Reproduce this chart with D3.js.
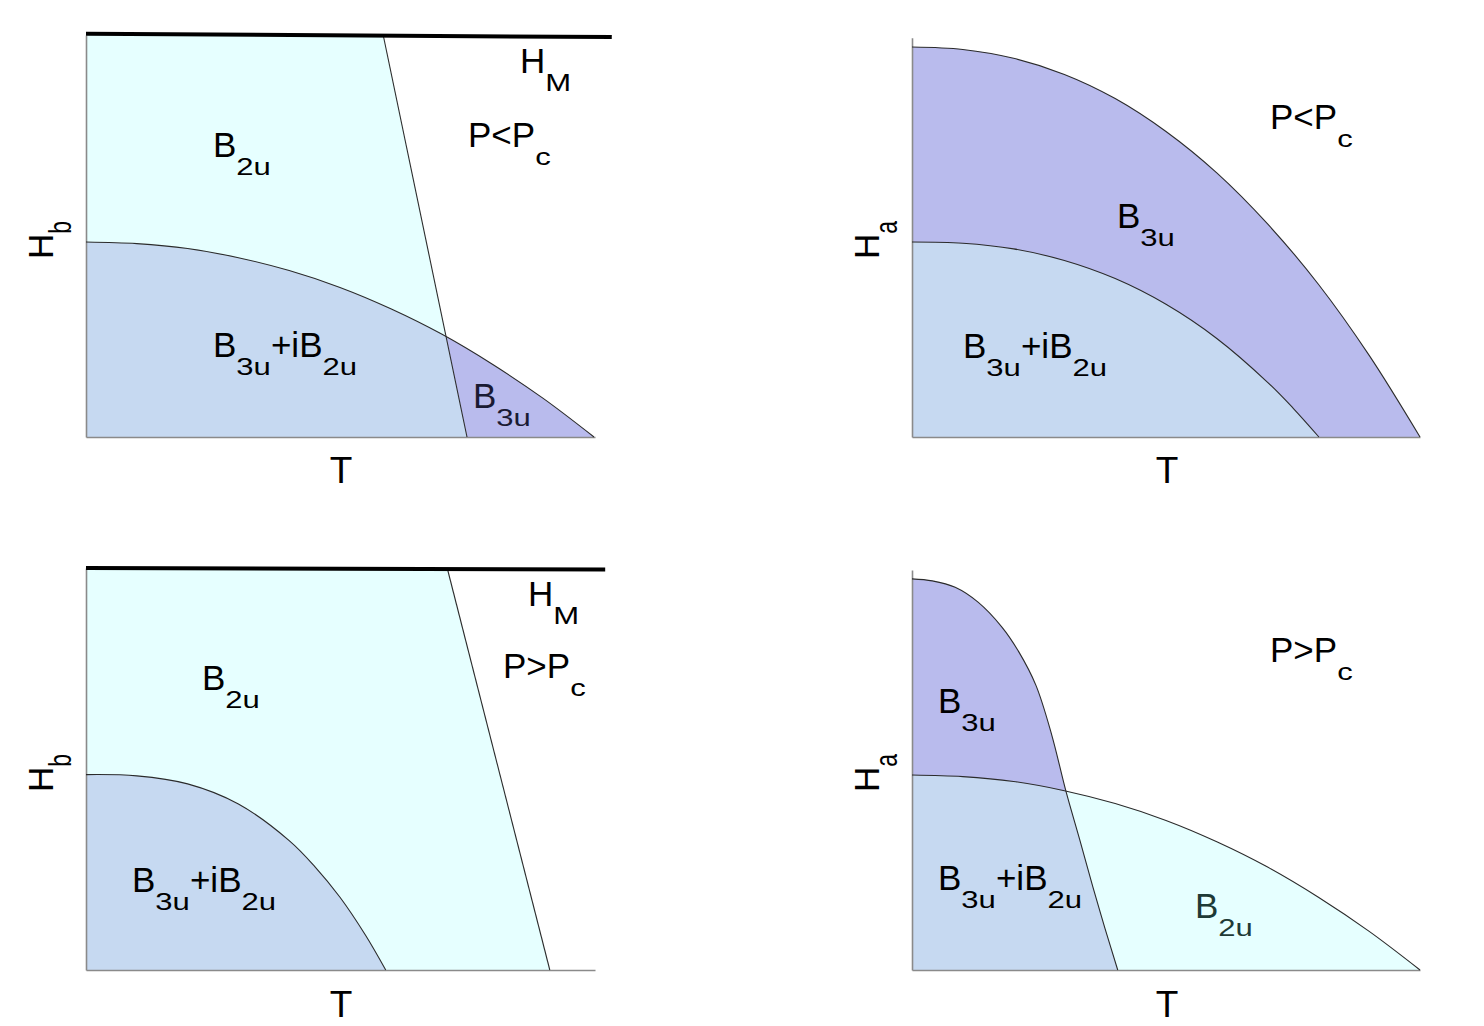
<!DOCTYPE html>
<html><head><meta charset="utf-8">
<script src="https://cdn.jsdelivr.net/npm/d3@7"></script>
<style>body{margin:0;background:#fff}</style>
</head><body><svg id="c" width="1484" height="1026"></svg>
<script>
// ---------- data (T, H) in normalised units ----------
const tlHM       = [[0, 1.003], [1.035, 0.995]];
const tlBoundary = [[0.585, 1.0], [0.75, 0]];
const tlCurve    = [[0,0.485],[0.1,0.481],[0.2,0.469],[0.3,0.446],[0.4,0.414],[0.5,0.372],[0.6,0.319],[0.7,0.256],[0.8,0.181],[0.9,0.096],[1,0]];
const trOuter    = [[0,0.970],[0.1,0.964],[0.2,0.942],[0.3,0.902],[0.4,0.842],[0.5,0.760],[0.6,0.657],[0.7,0.530],[0.8,0.380],[0.9,0.203],[1,0]];
const trInner    = [[0,0.485],[0.1,0.482],[0.2,0.468],[0.3,0.439],[0.4,0.394],[0.5,0.330],[0.6,0.245],[0.7,0.136],[0.75,0.072],[0.801,0]];
const blHM       = [[0, 1.0], [1.022, 0.996]];
const blBoundary = [[0.711, 1.0], [0.913, 0]];
const blCurve    = [[0,0.486],[0.1,0.483],[0.2,0.463],[0.3,0.413],[0.4,0.322],[0.45,0.258],[0.5,0.181],[0.55,0.087],[0.59,0]];
const brB3u      = [[0,0.973],[0.04,0.968],[0.085,0.952],[0.13,0.915],[0.177,0.853],[0.21,0.792],[0.244,0.708],[0.275,0.585],[0.303,0.445],[0.33,0.325],[0.356,0.207],[0.38,0.103],[0.405,0]];
const brCurve    = [[0,0.485],[0.1,0.481],[0.2,0.469],[0.3,0.446],[0.4,0.414],[0.5,0.372],[0.6,0.319],[0.7,0.256],[0.8,0.181],[0.9,0.096],[1,0]];
const axisTop    = [1.0, 0.993, 1.0, 0.995];
const axisRight  = [1.002, 1.0, 1.002, 1.0];

const C_CYAN = "#e6ffff", C_BLUE = "#c6d9f1", C_PURP = "#b9bbed";
const W = 508, Hh = 402;
const svg = d3.select("#c");
const FONT = "Liberation Sans, Arial, sans-serif";
const CURVE = d3.curveCatmullRom.alpha(0.5);

function scales(x0, y0){
  return { x: d3.scaleLinear().domain([0,1]).range([x0, x0+W]),
           y: d3.scaleLinear().domain([0,1]).range([y0, y0-Hh]) };
}
const lineGen = s => d3.line().x(d=>s.x(d[0])).y(d=>s.y(d[1])).curve(CURVE);
const polyGen = s => d3.line().x(d=>s.x(d[0])).y(d=>s.y(d[1]));
const areaGen = s => d3.area().x(d=>s.x(d[0])).y0(s.y(0)).y1(d=>s.y(d[1])).curve(CURVE);

function label(g, x, y, parts, opts={}){
  const size = opts.size||35, subSize = 23, SX = 1.35, DY = 18;
  const outer = g.append("g").attr("transform", opts.rotate ? `translate(${x},${y}) rotate(-90)` : `translate(${x},${y})`);
  const inner = outer.append("g");
  let cx = 0;
  parts.forEach(p=>{
    const isSub = !!p[1];
    const t = inner.append("text").attr("font-family",FONT)
      .attr("font-size", isSub ? subSize : size).attr("fill", opts.fill||"#000").text(p[0]);
    const w = t.node().getComputedTextLength();
    const sx = isSub && !opts.rotate ? SX : 1;
    const sy = isSub && opts.rotate ? SX : 1;
    t.attr("transform", `translate(${cx},${isSub?DY:0}) scale(${sx},${sy})`);
    cx += w*sx;
  });
  if (opts.anchor === "middle") inner.attr("transform", `translate(${-cx/2},0)`);
}
function axes(g, s, i){
  const ax = d3.axisLeft(s.y.copy().domain([0,axisTop[i]]).range([s.y(0), s.y(axisTop[i])])).ticks(0).tickSizeOuter(0);
  const bx = d3.axisBottom(s.x.copy().domain([0,axisRight[i]]).range([s.x(0), s.x(axisRight[i])])).ticks(0).tickSizeOuter(0);
  g.append("g").attr("transform",`translate(${s.x(0)},0)`).call(ax)
    .select(".domain").attr("stroke","#8a8a8a").attr("stroke-width",1.6);
  g.append("g").attr("transform",`translate(0,${s.y(0)})`).call(bx)
    .select(".domain").attr("stroke","#8a8a8a").attr("stroke-width",1.6);
}
const thin = sel => sel.attr("fill","none").attr("stroke","#2b2b2b").attr("stroke-width",1.1);
const defs = svg.append("defs");

// ---------- Panel 1 (top-left) ----------
{
  const s = scales(86, 437), g = svg.append("g");
  g.append("path").attr("d", polyGen(s)([[0,0],[0,1],tlBoundary[0],tlBoundary[1]])+"Z").attr("fill",C_CYAN);
  defs.append("clipPath").attr("id","p1L").append("path").attr("d", polyGen(s)([[0,0],[0,1],tlBoundary[0],tlBoundary[1]])+"Z");
  defs.append("clipPath").attr("id","p1R").append("path").attr("d", polyGen(s)([tlBoundary[1],tlBoundary[0],[1.2,1],[1.2,0]])+"Z");
  g.append("path").attr("d", areaGen(s)(tlCurve)).attr("fill",C_BLUE).attr("clip-path","url(#p1L)");
  g.append("path").attr("d", areaGen(s)(tlCurve)).attr("fill",C_PURP).attr("clip-path","url(#p1R)");
  axes(g, s, 0);
  g.append("path").attr("d", lineGen(s)(tlCurve)).call(thin);
  g.append("path").attr("d", polyGen(s)(tlBoundary)).call(thin);
  g.append("path").attr("d", polyGen(s)(tlHM)).attr("stroke","#000").attr("stroke-width",4).attr("fill","none");
  label(g, 53, 259, [["H"],["b",1]], {rotate:true});
  label(g, 341, 483, [["T"]], {anchor:"middle", size:37});
  label(g, 213, 157, [["B"],["2u",1]]);
  label(g, 520, 73, [["H"],["M",1]]);
  label(g, 468, 147, [["P<P"],["c",1]]);
  label(g, 213, 357, [["B"],["3u",1],["+iB"],["2u",1]]);
  label(g, 473, 408, [["B"],["3u",1]], {fill:"#1a1a33"});
}
// ---------- Panel 2 (top-right) ----------
{
  const s = scales(912, 437), g = svg.append("g");
  g.append("path").attr("d", areaGen(s)(trOuter)).attr("fill",C_PURP);
  g.append("path").attr("d", areaGen(s)(trInner)).attr("fill",C_BLUE);
  axes(g, s, 1);
  g.append("path").attr("d", lineGen(s)(trOuter)).call(thin);
  g.append("path").attr("d", lineGen(s)(trInner)).call(thin);
  label(g, 879, 259, [["H"],["a",1]], {rotate:true});
  label(g, 1167, 483, [["T"]], {anchor:"middle", size:37});
  label(g, 1270, 129, [["P<P"],["c",1]]);
  label(g, 1117, 228, [["B"],["3u",1]]);
  label(g, 963, 358, [["B"],["3u",1],["+iB"],["2u",1]]);
}
// ---------- Panel 3 (bottom-left) ----------
{
  const s = scales(86, 970), g = svg.append("g");
  g.append("path").attr("d", polyGen(s)([[0,0],[0,1],blBoundary[0],blBoundary[1]])+"Z").attr("fill",C_CYAN);
  g.append("path").attr("d", areaGen(s)(blCurve)).attr("fill",C_BLUE);
  axes(g, s, 2);
  g.append("path").attr("d", lineGen(s)(blCurve)).call(thin);
  g.append("path").attr("d", polyGen(s)(blBoundary)).call(thin);
  g.append("path").attr("d", polyGen(s)(blHM)).attr("stroke","#000").attr("stroke-width",4).attr("fill","none");
  label(g, 53, 792, [["H"],["b",1]], {rotate:true});
  label(g, 341, 1017, [["T"]], {anchor:"middle", size:37});
  label(g, 202, 690, [["B"],["2u",1]]);
  label(g, 528, 606, [["H"],["M",1]]);
  label(g, 503, 678, [["P>P"],["c",1]]);
  label(g, 132, 892, [["B"],["3u",1],["+iB"],["2u",1]]);
}
// ---------- Panel 4 (bottom-right) ----------
{
  const s = scales(912, 970), g = svg.append("g");
  defs.append("clipPath").attr("id","p4B").append("path").attr("d", areaGen(s)(brB3u));
  g.append("path").attr("d", areaGen(s)(brCurve)).attr("fill",C_CYAN);
  g.append("path").attr("d", areaGen(s)(brB3u)).attr("fill",C_PURP);
  g.append("path").attr("d", areaGen(s)(brCurve)).attr("fill",C_BLUE).attr("clip-path","url(#p4B)");
  axes(g, s, 3);
  g.append("path").attr("d", lineGen(s)(brB3u)).call(thin);
  g.append("path").attr("d", lineGen(s)(brCurve)).call(thin);
  label(g, 879, 792, [["H"],["a",1]], {rotate:true});
  label(g, 1167, 1017, [["T"]], {anchor:"middle", size:37});
  label(g, 1270, 662, [["P>P"],["c",1]]);
  label(g, 938, 713, [["B"],["3u",1]]);
  label(g, 938, 890, [["B"],["3u",1],["+iB"],["2u",1]]);
  label(g, 1195, 918, [["B"],["2u",1]], {fill:"#1e3a36"});
}
</script></body></html>
